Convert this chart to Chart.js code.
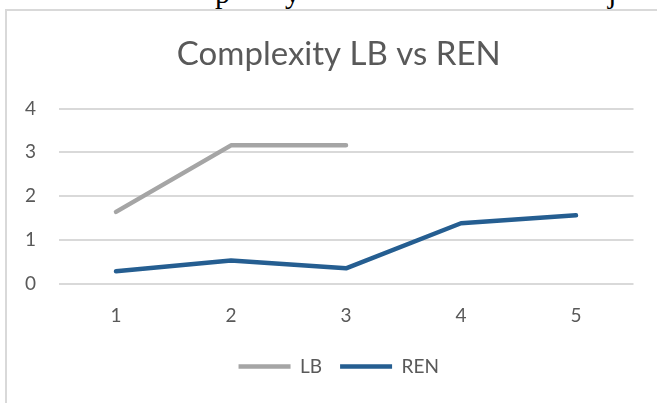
<!DOCTYPE html>
<html>
<head>
<meta charset="utf-8">
<script src="https://cdn.jsdelivr.net/npm/chart.js@4"></script>
<style>
  body { margin: 0; background: #fff; width: 657px; height: 403px; overflow: hidden; position: relative; }
  #frame { position: absolute; left: 5px; top: 9px; width: 700px; height: 420px;
           border-left: 2px solid #d9d9d9; border-top: 2px solid #d9d9d9; }
  #chartBox { position: absolute; left: 0; top: 0; width: 657px; height: 403px; }
  .frag { position: absolute; top: -22px; font-family: "Liberation Serif", serif; font-size: 30px; color: #000; line-height: 30px; }
</style>
</head>
<body>
<span class="frag" style="left:215px">p</span>
<span class="frag" style="left:285px">y</span>
<span class="frag" style="left:608px">j</span>
<div id="frame"></div>
<div id="chartBox"><canvas id="complexityChart"></canvas></div>
<script>
// chart data
const categories = ["1", "2", "3", "4", "5"];
const lbValues = [1.64, 3.16, 3.16, null, null];
const renValues = [0.28, 0.53, 0.35, 1.38, 1.56];
const yTicks = [0, 1, 2, 3, 4];

const textColor = "#595959";
const fontFamily = "Lato, 'Open Sans', sans-serif";

const ctx = document.getElementById("complexityChart").getContext("2d");

new Chart(ctx, {
  type: "line",
  data: {
    labels: categories,
    datasets: [
      {
        label: "LB",
        data: lbValues,
        borderColor: "#a5a5a5",
        backgroundColor: "#a5a5a5",
        borderWidth: 4.5,
        borderCapStyle: "round",
        borderJoinStyle: "round",
        pointRadius: 0,
      },
      {
        label: "REN",
        data: renValues,
        borderColor: "#255e91",
        backgroundColor: "#255e91",
        borderWidth: 4.5,
        borderCapStyle: "round",
        borderJoinStyle: "round",
        pointRadius: 0,
      },
    ],
  },
  options: {
    responsive: true,
    maintainAspectRatio: false,
    animation: false,
    layout: { padding: { left: 44, right: 23.5, top: 0, bottom: 17 } },
    plugins: {
      title: {
        display: true,
        text: "Complexity LB vs REN",
        color: textColor,
        font: { family: fontFamily, size: 33, weight: "normal" },
        padding: { top: 35, bottom: 34 },
      },
      legend: {
        position: "bottom",
        labels: {
          color: textColor,
          font: { family: fontFamily, size: 19 },
          usePointStyle: true,
          pointStyle: "line",
          pointStyleWidth: 52,
          padding: 18,
        },
      },
      tooltip: { enabled: false },
    },
    scales: {
      x: {
        offset: true,
        grid: { display: false, drawTicks: false },
        border: { display: false },
        ticks: { color: textColor, font: { family: fontFamily, size: 19 }, padding: 21 },
        afterFit: (axis) => {
          axis.height = 55.4;
        },
      },
      y: {
        min: 0,
        max: 4,
        afterBuildTicks: (axis) => {
          axis.ticks = yTicks.map((v) => ({ value: v }));
        },
        afterFit: (axis) => {
          axis.width = 14.5;
        },
        grid: { color: "#d9d9d9", lineWidth: 2, drawTicks: false },
        border: { display: false },
        // labels sit left of the axis box, so draw them "mirrored" with a negative offset
        ticks: { color: textColor, font: { family: fontFamily, size: 19 }, mirror: true, padding: -33.5 },
      },
    },
  },
});
</script>
</body>
</html>
